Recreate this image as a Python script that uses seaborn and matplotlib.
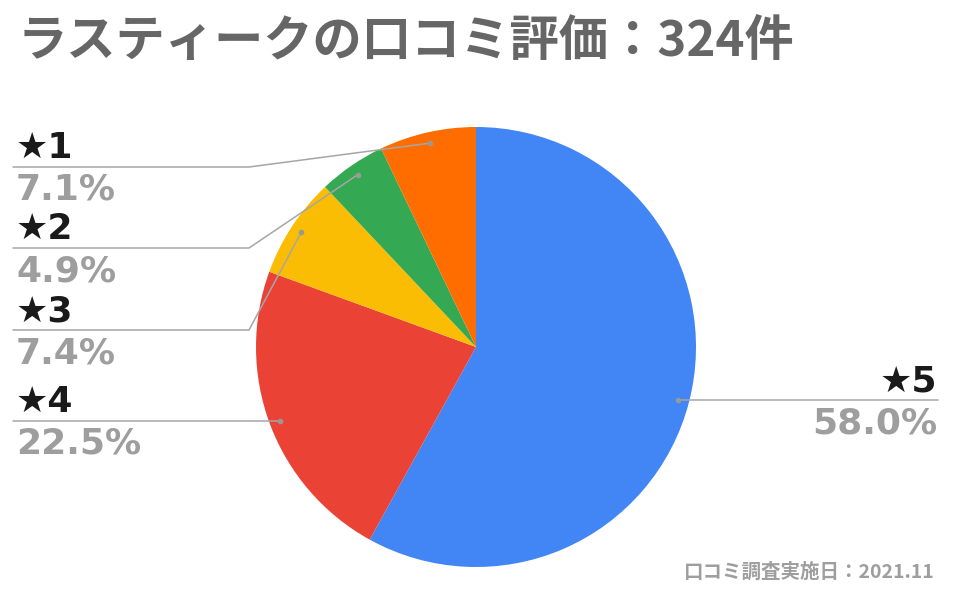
import matplotlib
matplotlib.use('Agg')
import numpy as np
import matplotlib.pyplot as plt
import seaborn as sns

# data
star_labels = ['★5', '★4', '★3', '★2', '★1']
counts = [188, 73, 24, 16, 23]
colors = ['#4285F4', '#EA4335', '#FBBC04', '#34A853', '#FF6D01']
title = 'ラスティークの口コミ評価：324件'
note = '口コミ調査実施日：2021.11'

# layout (pixels from the top-left corner)
W, H = 960, 590
cx, cy, R = 476, 347, 220
line_y = [400, 421, 330, 248, 167]
elbow_x = [None, None, 249, 249, 249]
side = ['right', 'left', 'left', 'left', 'left']

sns.set_style('white')
plt.rcParams['font.family'] = ['DejaVu Sans', 'Noto Sans CJK JP']

fig = plt.figure(figsize=(9.6, 5.9), dpi=100)
ax = fig.add_axes([0, 0, 1, 1])

wedges, _ = ax.pie(counts, colors=colors, startangle=90, counterclock=False,
                   center=(cx, H - cy), radius=R,
                   wedgeprops=dict(linewidth=0))
ax.set_xlim(0, W)
ax.set_ylim(0, H)
ax.set_aspect('equal')
ax.axis('off')

total = sum(counts)
line_col = '#a6a6a6'
for w, lab, n, ly, ex, sd in zip(wedges, star_labels, counts, line_y, elbow_x, side):
  ang = np.deg2rad((w.theta1 + w.theta2) / 2)
  dx = cx + 0.95 * R * np.cos(ang)
  dy = (H - cy) + 0.95 * R * np.sin(ang)
  yy = H - ly
  end_x = 13 if sd == 'left' else 938
  xs, ys = [dx], [dy]
  if ex is not None:
    xs.append(ex)
    ys.append(yy)
  else:
    ys[0] = yy
  xs.append(end_x)
  ys.append(yy)
  ax.plot(xs, ys, color=line_col, lw=1.1, solid_joinstyle='miter', zorder=3)
  ax.plot([dx], [ys[0]], 'o', ms=3, color='#999999', zorder=4)

  tx = 16 if sd == 'left' else 937
  ha = 'left' if sd == 'left' else 'right'
  ax.text(tx, yy + 9, lab, ha=ha, va='baseline', fontsize=26,
          fontweight='bold', color='#1a1a1a')
  ax.text(tx, yy - 33, '{:.1f}%'.format(n / total * 100), ha=ha, va='baseline',
          fontsize=26, fontweight='bold', color='#9e9e9e')

ax.text(18, H - 42, title, ha='left', va='center', fontsize=35.5,
        fontweight='bold', color='#666666',
        family=['Noto Sans CJK JP', 'DejaVu Sans'])
ax.text(935, H - 572, note, ha='right', va='center', fontsize=14,
        fontweight='bold', color='#9e9e9e',
        family=['Noto Sans CJK JP', 'DejaVu Sans'])

fig.savefig('out.png', dpi=100)
